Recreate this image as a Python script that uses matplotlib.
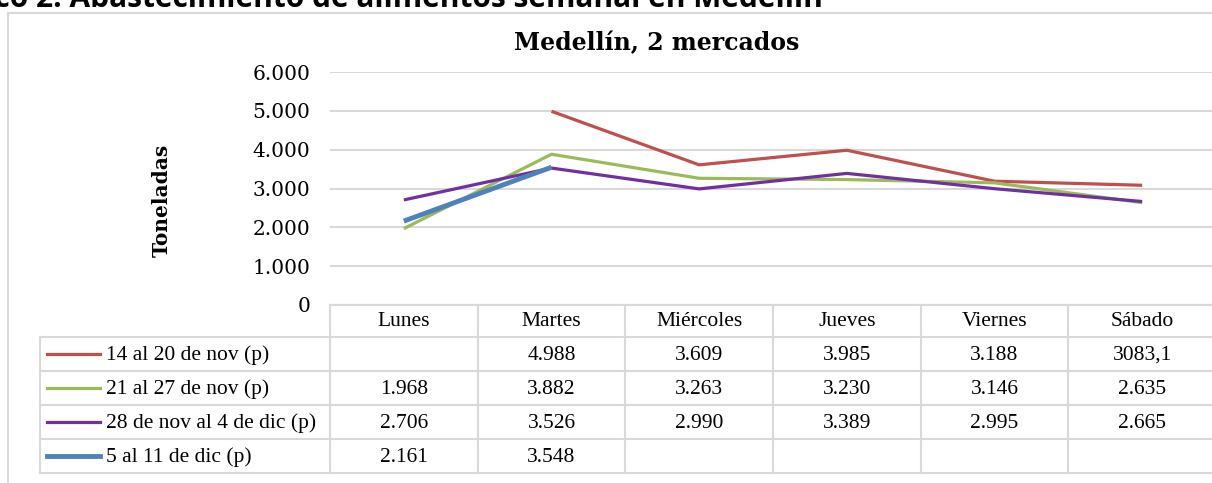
import numpy as np
import matplotlib
matplotlib.use("Agg")
import matplotlib.pyplot as plt
from matplotlib.lines import Line2D

# Datos (toneladas)
dias = ["Lunes", "Martes", "Miércoles", "Jueves", "Viernes", "Sábado"]
series = ["14 al 20 de nov (p)", "21 al 27 de nov (p)",
          "28 de nov al 4 de dic (p)", "5 al 11 de dic (p)"]
nov14 = [np.nan, 4988, 3609, 3985, 3188, 3083.1]
nov21 = [1968, 3882, 3263, 3230, 3146, 2635]
nov28 = [2706, 3526, 2990, 3389, 2995, 2665]
dic05 = [2161, 3548, np.nan, np.nan, np.nan, np.nan]
valores = [nov14, nov21, nov28, dic05]
colores = ["#C0504D", "#9BBB59", "#7030A0", "#4F81BD"]
anchos = [2.3, 2.3, 2.3, 3.5]
yticks = [0, 1000, 2000, 3000, 4000, 5000, 6000]

W, H = 1212, 483
gris = "#d9d9d9"


def fx(x):
    return x / W


def fy(y):
    return 1 - y / H


def miles(v):
    if np.isnan(v):
        return ""
    if v != int(v):
        return ("%.1f" % v).replace(".", ",")
    return "{:,}".format(int(v)).replace(",", ".")


def linea(x0, y0, x1, y1, color=gris, lw=1.5):
    fig.add_artist(Line2D([fx(x0), fx(x1)], [fy(y0), fy(y1)],
                          color=color, lw=lw, transform=fig.transFigure))


fig = plt.figure(figsize=(W / 100, H / 100), dpi=100)

# area del grafico
x_izq, x_der = 330, 1216
y_sup, y_inf = 72, 305
ax = fig.add_axes([fx(x_izq), fy(y_inf), fx(x_der - x_izq), (y_inf - y_sup) / H])
x = np.arange(len(dias))
for vals, c, lw in zip(valores, colores, anchos):
    ax.plot(x, vals, color=c, lw=lw, solid_capstyle="butt", zorder=3)
ax.set_xlim(-0.5, len(dias) - 0.5)
ax.set_ylim(0, 6000)
ax.set_yticks(yticks)
ax.set_yticklabels([miles(v) for v in yticks], family="DejaVu Serif", fontsize=14.5)
ax.tick_params(axis="y", length=0, pad=14)
ax.set_xticks([])
ax.grid(axis="y", color=gris, lw=1.5, zorder=0)
for s in ax.spines.values():
    s.set_visible(False)
fig.text(fx(162), fy(200), "Toneladas", family="DejaVu Serif", fontweight="bold",
         fontsize=14.5, rotation=90, ha="center", va="center")

# titulos
fig.text(fx(657), fy(43), "Medellín, 2 mercados", family="DejaVu Serif",
         fontweight="bold", fontsize=17, ha="center", va="center")
fig.text(fx(823), fy(7), "Gráfico 2: Abastecimiento de alimentos semanal en Medellín",
         family="Open Sans", fontweight="bold", fontsize=21.5, ha="right", va="baseline")

# marco del grafico
linea(8, 12.5, 1212, 12.5)
linea(8, 12.5, 8, 483)

# tabla de datos
ancho_col = (x_der - x_izq) / len(dias)
filas = [305, 337, 371, 405, 439, 473]
fs = 15.5
linea(x_izq, filas[0], x_der, filas[0])
for yy in filas[1:]:
    linea(40, yy, x_der, yy)
linea(40, filas[1], 40, filas[-1])
for k in range(len(dias) + 1):
    xx = x_izq + k * ancho_col
    linea(xx, filas[0], xx, filas[-1])
for k, d in enumerate(dias):
    fig.text(fx(x_izq + (k + 0.5) * ancho_col), fy((filas[0] + filas[1]) / 2 + 1), d,
             family="Liberation Serif", fontsize=fs, ha="center", va="center")
for i, (nombre, vals, c, lw) in enumerate(zip(series, valores, colores, anchos)):
    yc = (filas[i + 1] + filas[i + 2]) / 2
    linea(47, yc, 100, yc, color=c, lw=lw)
    fig.text(fx(106), fy(yc + 1), nombre, family="Liberation Serif", fontsize=fs,
             ha="left", va="center")
    for k, v in enumerate(vals):
        fig.text(fx(x_izq + (k + 0.5) * ancho_col), fy(yc + 1), miles(v),
                 family="Liberation Serif", fontsize=fs, ha="center", va="center")

fig.savefig("out.png", dpi=100)
